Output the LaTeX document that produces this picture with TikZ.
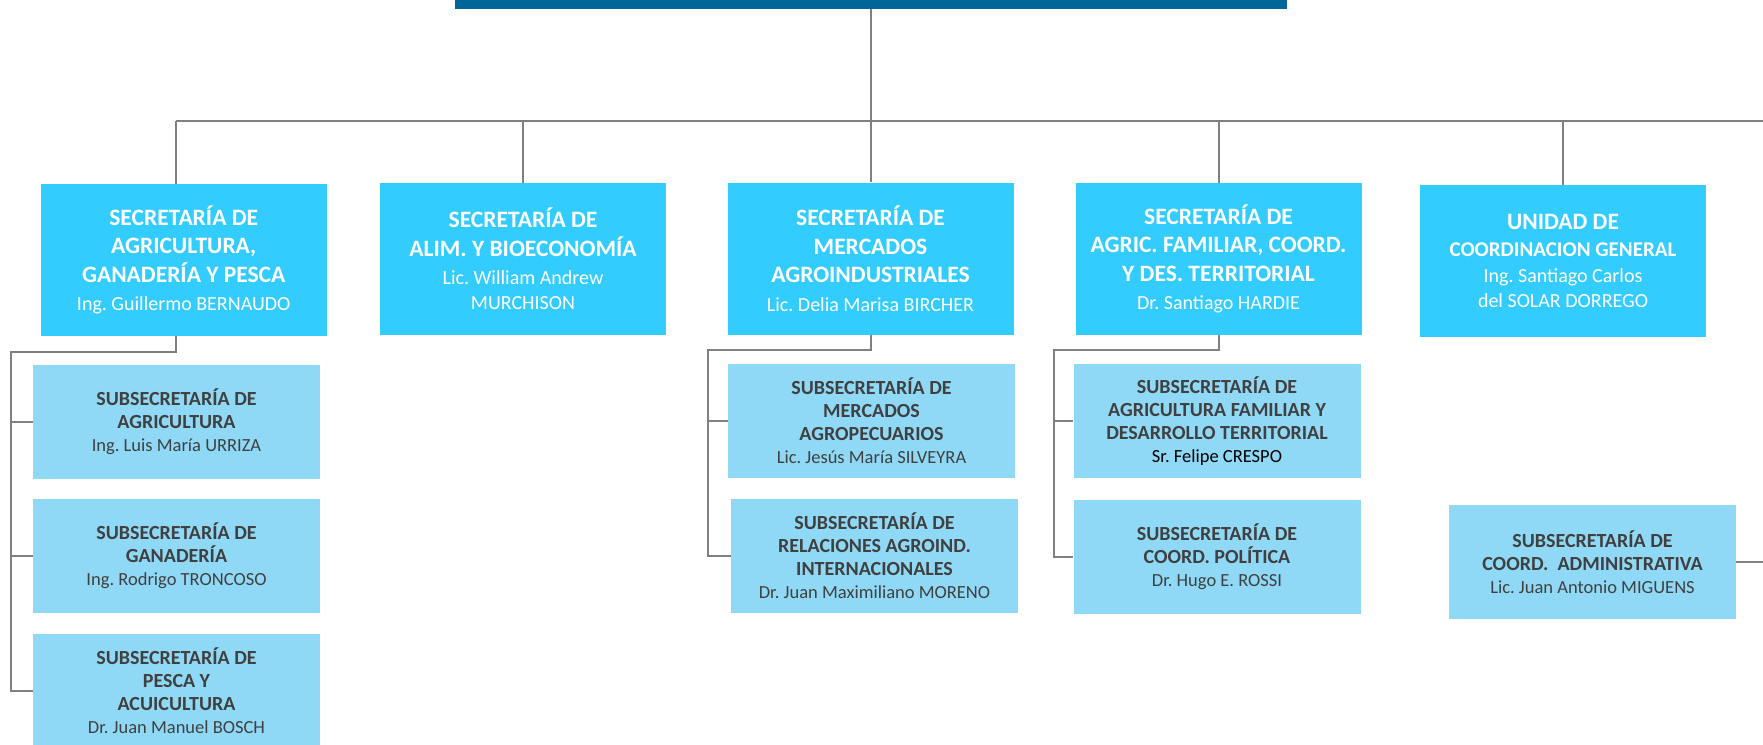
\documentclass[tikz,border=0pt]{standalone}
\usepackage{fontspec}
\setmainfont{Carlito}
\frenchspacing
\definecolor{topblue}{HTML}{00669A}
\definecolor{secblue}{HTML}{33CCFF}
\definecolor{subblue}{HTML}{8FD9F6}
\definecolor{lnk}{HTML}{808080}
\definecolor{subtxt}{HTML}{404040}
\newcommand\ttl{\fontsize{23.5}{28.5}\selectfont\bfseries}
\newcommand\ttlb{\fontsize{21}{28.5}\selectfont\bfseries}
\newcommand\nm{\fontsize{20}{28.5}\selectfont\mdseries}
\newcommand\sttl{\fontsize{20}{23}\selectfont\bfseries}
\newcommand\snm{\fontsize{18.5}{23}\selectfont\mdseries}
\begin{document}
\begin{tikzpicture}[x=1pt,y=-1pt]
		\tikzset{secbox/.style={fill=secblue,text=white,minimum width=286pt,minimum height=152pt,align=center,inner sep=0pt,font=\ttl},
			subbox/.style={fill=subblue,text=subtxt,minimum width=287pt,minimum height=114pt,align=center,inner sep=0pt,font=\sttl},
			conn/.style={draw=lnk,line width=2pt}
		}
		\useasboundingbox (0,0) rectangle (1763,744);
		\clip (0,0) rectangle (1763,744);
		\node[fill=topblue,minimum width=832pt,minimum height=58pt,inner sep=0pt] (min) at (871,-20) {};
		\node[secbox] (s1) at (183.7,260) {SECRETARÍA DE\\AGRICULTURA,\\GANADERÍA Y PESCA\\\nm Ing. Guillermo BERNAUDO};
		\node[secbox] (s2) at (523,259) {SECRETARÍA DE\\ALIM. Y BIOECONOMÍA\\\nm Lic. William Andrew\\[-3.5pt]\nm MURCHISON};
		\node[secbox] (s3) at (870.5,258.5) {SECRETARÍA DE\\MERCADOS\\AGROINDUSTRIALES\\\nm Lic. Delia Marisa BIRCHER};
		\node[secbox] (s4) at (1218.5,259) {SECRETARÍA DE\\AGRIC. FAMILIAR, COORD.\\Y DES. TERRITORIAL\\\nm Dr. Santiago HARDIE};
		\node[secbox] (s5) at (1563,261) {UNIDAD DE\\[-2pt]\ttlb COORDINACION GENERAL\\[-2pt]\nm Ing. Santiago Carlos\\[-3.5pt]\nm del SOLAR DORREGO};
		\node[subbox] (u1a) at (176.5,422) {SUBSECRETARÍA DE\\AGRICULTURA\\\snm Ing. Luis María URRIZA};
		\node[subbox] (u1b) at (176.5,556) {SUBSECRETARÍA DE\\GANADERÍA\\\snm Ing. Rodrigo TRONCOSO};
		\node[subbox] (u1c) at (176.5,691) {SUBSECRETARÍA DE\\PESCA Y\\ACUICULTURA\\\snm Dr. Juan Manuel BOSCH};
		\node[subbox] (u3a) at (871.5,421) {SUBSECRETARÍA DE\\MERCADOS\\AGROPECUARIOS\\\snm Lic. Jesús María SILVEYRA};
		\node[subbox] (u3b) at (874.5,556) {SUBSECRETARÍA DE\\RELACIONES AGROIND.\\INTERNACIONALES\\\snm Dr. Juan Maximiliano MORENO};
		\node[subbox] (u4a) at (1217,421) {SUBSECRETARÍA DE\\AGRICULTURA FAMILIAR Y\\DESARROLLO TERRITORIAL\\\snm\color{black} Sr. Felipe CRESPO};
		\node[subbox] (u4b) at (1217,557) {SUBSECRETARÍA DE\\COORD. POLÍTICA\\\snm Dr. Hugo E. ROSSI};
		\node[subbox] (u5) at (1592.5,562) {SUBSECRETARÍA DE\\COORD.\ \ ADMINISTRATIVA\\\snm Lic. Juan Antonio MIGUENS};
		\coordinate (busL) at (176,121); \coordinate (busR) at (1763,121);
		\coordinate (k1) at (11,352); \coordinate (k3) at (708,350); \coordinate (k4) at (1054,350);
		\draw[conn] (min.south) -- (min.south |- busL);
		\draw[conn] (busL) -- (busR);
		\draw[conn] ([xshift=-7.7pt]s1.north) -- ([xshift=-7.7pt]s1.north |- busL);
		\draw[conn] (s2.north) -- (s2.north |- busL);
		\draw[conn] (s3.north) -- (s3.north |- busL);
		\draw[conn] (s4.north) -- (s4.north |- busL);
		\draw[conn] (s5.north) -- (s5.north |- busL);
		\draw[conn] ([xshift=-7.7pt]s1.south) |- (k1) |- (u1c.west);
		\draw[conn] (k1 |- u1a.west) -- (u1a.west) (k1 |- u1b.west) -- (u1b.west);
		\draw[conn] (s3.south) |- (k3) |- (u3b.west);
		\draw[conn] (k3 |- u3a.west) -- (u3a.west);
		\draw[conn] (s4.south) |- (k4) |- (u4b.west);
		\draw[conn] (k4 |- u4a.west) -- (u4a.west);
		\draw[conn] (u5.east) -- (u5.east -| busR);
	\end{tikzpicture}
\end{document}
